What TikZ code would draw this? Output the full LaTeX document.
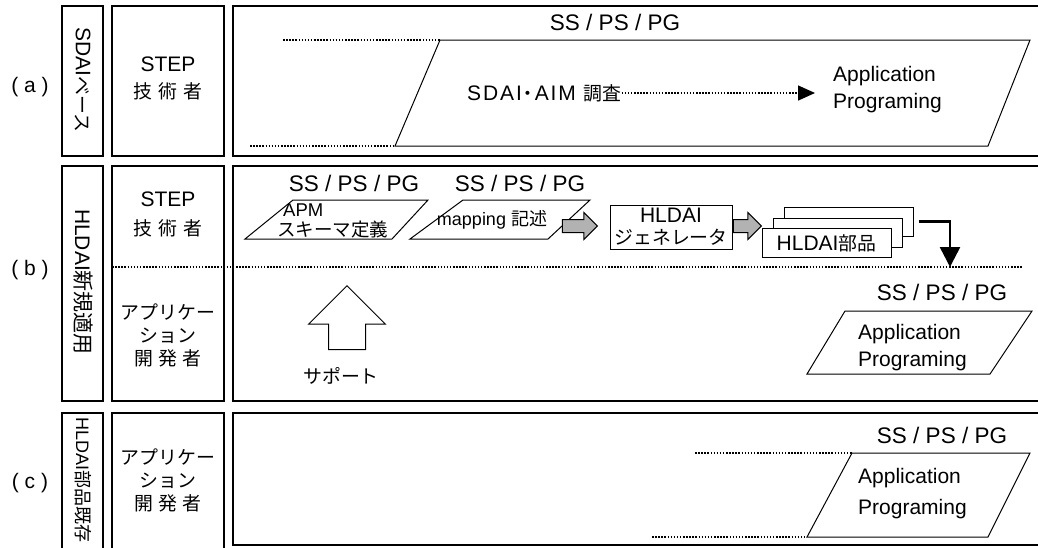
\documentclass[tikz,border=0pt]{standalone}
\usepackage{fontspec}
\setmainfont{Liberation Sans}
\newfontfamily\jp[Scale=0.9]{Noto Sans CJK JP}
\newfontfamily\jpn{Noto Sans CJK JP}
\usetikzlibrary{arrows.meta,shapes.arrows}

\begin{document}
\begin{tikzpicture}[x=1pt, y=-1pt, font=\fontsize{21}{25}\selectfont,
  frame/.style={draw, line width=1.3pt},
  txt/.style={inner sep=0pt, align=center},
  ver/.style={txt, font=\fontsize{22.5}{25}\selectfont},
  para/.style={draw, line width=1pt},
  dotline/.style={line width=1.5pt, dash pattern=on 1.5pt off 1.6pt},
  blk/.style={single arrow, draw, fill=black!30, line width=1pt, inner sep=6pt,
    single arrow head extend=7pt, minimum height=#1, anchor=tip},
  part/.style={draw, fill=white, line width=1pt, minimum width=129pt, minimum height=29pt, inner sep=0pt},
  arr/.style={-{Triangle[length=20pt, width=20pt]}, line width=2.5pt}]
\useasboundingbox (0,0) rectangle (1038,547);
\draw[frame] (62,6) rectangle (103,156);
\draw[frame] (112,6) rectangle (224,156);
\draw[frame] (1040,6) -| (233,156) -- (1040,156);
\draw[frame] (62,166) rectangle (103,401);
\draw[frame] (112,166) rectangle (224,401);
\draw[frame] (1040,166) -| (233,401) -- (1040,401);
\draw[frame] (62,549) |- (103,413) -- (103,549);
\draw[frame] (112,549) |- (224,413) -- (224,549);
\draw[frame] (1040,413) -| (233,545) -- (1040,545);
\node[txt] (lab-a) at (30,87) {( a )};
\node[txt] (lab-b) at (30,270) {( b )};
\node[txt] (lab-c) at (30,483) {( c )};
\node[txt, rotate=-90] (ttl-a) at (83,80) {SDAI{\jp ベース}};
\node[txt, rotate=-90] (ttl-b) at (83,282) {HLDAI{\jpn 新規適用}};
\node[txt, rotate=-90, font=\fontsize{18}{20}\selectfont] (ttl-c) at (83,480) {HLDAI{\jpn 部品既存}};
\node[txt] (who-a) at (168,78) {STEP\\[2pt]{\jp 技\hspace{6pt}術\hspace{6pt}者}};
\node[txt] (who-b1) at (168,214) {STEP\\[4pt]{\jp 技\hspace{6pt}術\hspace{6pt}者}};
\node[txt, font=\fontsize{21}{23}\selectfont\jp] (who-b2) at (168,335) {アプリケー\\ション\\開\hspace{5pt}発\hspace{5pt}者};
\node[txt, font=\fontsize{21}{23}\selectfont\jp] (who-c) at (168,480) {アプリケー\\ション\\開\hspace{5pt}発\hspace{5pt}者};
\node[ver] (ver-a) at (615,22) {SS / PS / PG};
\draw[para] (440,40) -- (1030,40) -- (988,146) -- (395,146) -- cycle;
\draw[dotline] (283,40) -- (440,40);
\draw[dotline] (250,146) -- (395,146);
\node[txt, anchor=west] (sdai) at (467,93) {\addfontfeature{LetterSpace=9}SDAI\hspace{-3pt}{\jp ・}\hspace{-3pt}AIM {\jp 調査}};
\node[txt, align=left, anchor=west] (app-a) at (833,90) {Application\\[2pt]Programing};
\draw[dotline, -{Triangle[length=17pt, width=15pt]}, shorten >=18pt] (sdai) -- (sdai -| app-a.west);
\node[ver] (ver-b1) at (354,183) {SS / PS / PG};
\node[ver] (ver-b2) at (520,183) {SS / PS / PG};
\draw[para] (293,200) -- (428,200) -- (392,239) -- (245,239) -- cycle;
\node[txt, align=left, anchor=west, font=\fontsize{18.5}{20}\selectfont] (apm) at (277,221) {\hspace*{6pt}APM\\{\jpn スキーマ定義}};
\draw[para] (463,200) -- (590,200) -- (548,239) -- (410,239) -- cycle;
\node[txt, font=\fontsize{18}{20}\selectfont] (map) at (492,220) {mapping {\jpn 記述}};
\node[blk=35pt] (g1) at (598,226) {};
\node[draw, line width=1pt, minimum width=122pt, minimum height=44pt, txt] (gen) at (671,227) {HLDAI\\[-3pt]{\jp ジェネレータ}};
\node[blk=28pt] (g2) at (762,226) {};
\node[part] (p3) at (848.5,221.5) {};
\node[part] (p2) at (837.5,232.5) {};
\node[part] (p1) at (826.5,243) {HLDAI{\jp 部品}};
\coordinate (sep-l) at (112,267);
\coordinate (sep-r) at (1022,267);
\coordinate (hit) at (950,267);
\draw[dotline] (sep-l) -- (sep-r);
\draw[arr] ([xshift=5pt]p3.east) -| (hit);
\node[single arrow, draw, fill=white, line width=1pt, shape border rotate=90, inner sep=18pt,
  single arrow head extend=20pt, minimum height=64pt, anchor=tip] (sup) at (347,285) {};
\node[txt, font=\fontsize{21}{23}\selectfont\jp] (sup-t) at (341,376) {サポート};
\node[ver] (ver-b3) at (942,292) {SS / PS / PG};
\draw[para] (845,311) -- (1032,311) -- (990,374) -- (807,374) -- cycle;
\node[txt, align=left, anchor=west] (app-b) at (858,348) {Application\\[2pt]Programing};
\node[ver] (ver-c) at (942,435) {SS / PS / PG};
\draw[para] (852,453) -- (1030,453) -- (988,537) -- (807,537) -- cycle;
\draw[dotline] (695,453) -- (852,453);
\draw[dotline] (652,537) -- (807,537);
\node[txt, align=left, anchor=west] (app-c) at (858,494) {Application\\[6pt]Programing};
\end{tikzpicture}
\end{document}
